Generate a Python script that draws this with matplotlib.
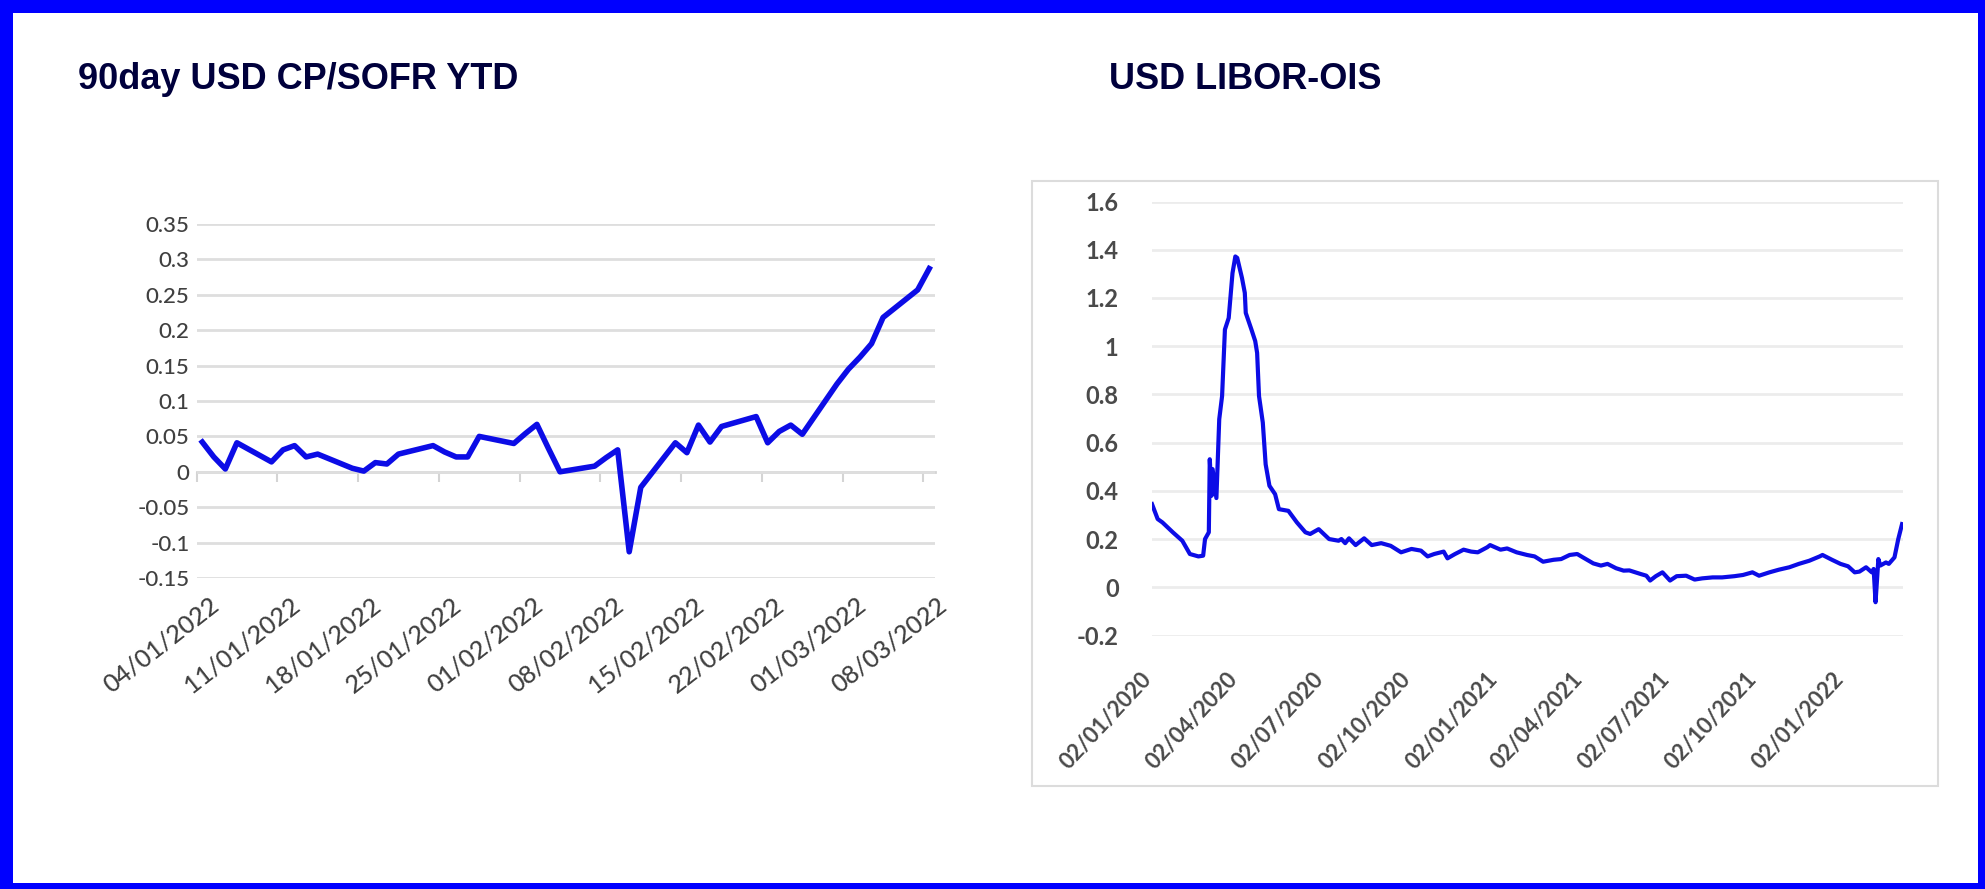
import matplotlib
matplotlib.use('Agg')
import matplotlib.pyplot as plt
import matplotlib.dates as mdates
from matplotlib.patches import Rectangle
from matplotlib.transforms import ScaledTranslation
import pandas as pd

plt.rcParams['font.family'] = ['Lato', 'DejaVu Sans']

# ---- left chart: 90day USD CP/SOFR, business days 04/01/2022 - 08/03/2022
cp_dates = pd.bdate_range('2022-01-04', '2022-03-08')
cp_vals = [0.042, 0.021, 0.004, 0.041,
           0.014, 0.031, 0.037, 0.021, 0.025,
           0.005, 0.001, 0.013, 0.011, 0.025,
           0.037, 0.028, 0.021, 0.021, 0.050,
           0.040, 0.054, 0.067, 0.033, 0.000,
           0.008, 0.020, 0.031, -0.113, -0.022,
           0.041, 0.027, 0.066, 0.042, 0.064,
           0.078, 0.041, 0.057, 0.066, 0.053,
           0.124, 0.145, 0.162, 0.181, 0.218,
           0.257, 0.287]
cp_ticks = ['2022-01-04', '2022-01-11', '2022-01-18', '2022-01-25', '2022-02-01',
            '2022-02-08', '2022-02-15', '2022-02-22', '2022-03-01', '2022-03-08']
cp_yticks = [-0.15, -0.1, -0.05, 0, 0.05, 0.1, 0.15, 0.2, 0.25, 0.3, 0.35]

# ---- right chart: USD LIBOR-OIS
lo_dates = ['2020-01-02', '2020-01-08', '2020-01-13', '2020-01-24', '2020-02-03',
            '2020-02-11', '2020-02-20', '2020-02-25', '2020-02-27', '2020-03-02',
            '2020-03-03', '2020-03-05', '2020-03-06', '2020-03-10', '2020-03-13',
            '2020-03-16', '2020-03-19', '2020-03-23', '2020-03-27', '2020-03-30',
            '2020-04-01', '2020-04-06', '2020-04-09', '2020-04-10', '2020-04-16',
            '2020-04-20', '2020-04-22', '2020-04-24', '2020-04-28', '2020-05-01',
            '2020-05-05', '2020-05-11', '2020-05-15', '2020-05-25', '2020-06-03',
            '2020-06-12', '2020-06-17', '2020-06-26', '2020-07-07', '2020-07-17',
            '2020-07-20', '2020-07-24', '2020-07-28', '2020-08-04', '2020-08-13',
            '2020-08-21', '2020-08-31', '2020-09-10', '2020-09-21', '2020-10-02',
            '2020-10-12', '2020-10-19', '2020-10-26', '2020-11-05', '2020-11-09',
            '2020-11-17', '2020-11-26', '2020-12-04', '2020-12-11', '2020-12-21',
            '2020-12-24', '2021-01-04', '2021-01-11', '2021-01-21', '2021-02-01',
            '2021-02-09', '2021-02-18', '2021-03-01', '2021-03-09', '2021-03-18',
            '2021-03-26', '2021-04-01', '2021-04-12', '2021-04-20', '2021-04-27',
            '2021-05-06', '2021-05-14', '2021-05-20', '2021-06-01', '2021-06-07',
            '2021-06-11', '2021-06-17', '2021-06-24', '2021-07-02', '2021-07-09',
            '2021-07-19', '2021-07-28', '2021-08-05', '2021-08-16', '2021-08-26',
            '2021-09-08', '2021-09-17', '2021-09-27', '2021-10-04', '2021-10-15',
            '2021-10-25', '2021-11-05', '2021-11-15', '2021-11-26', '2021-12-07',
            '2021-12-10', '2021-12-20', '2021-12-29', '2022-01-06', '2022-01-13',
            '2022-01-18', '2022-01-25', '2022-01-31', '2022-02-02', '2022-02-04',
            '2022-02-07', '2022-02-09', '2022-02-15', '2022-02-18', '2022-02-24',
            '2022-02-28', '2022-03-04']
lo_vals = [0.345, 0.283, 0.269, 0.228, 0.193,
           0.138, 0.128, 0.131, 0.200, 0.228,
           0.531, 0.380, 0.490, 0.370, 0.697,
           0.793, 1.069, 1.117, 1.303, 1.372,
           1.366, 1.283, 1.221, 1.138, 1.069,
           1.021, 0.972, 0.793, 0.683, 0.510,
           0.421, 0.386, 0.324, 0.317, 0.269,
           0.228, 0.221, 0.241, 0.200, 0.193,
           0.200, 0.183, 0.203, 0.175, 0.203,
           0.175, 0.183, 0.172, 0.145, 0.159,
           0.152, 0.128, 0.138, 0.148, 0.120,
           0.138, 0.156, 0.148, 0.145, 0.166,
           0.175, 0.156, 0.161, 0.145, 0.134,
           0.128, 0.106, 0.114, 0.117, 0.134,
           0.138, 0.124, 0.099, 0.090, 0.097,
           0.079, 0.069, 0.070, 0.055, 0.048,
           0.028, 0.046, 0.062, 0.028, 0.046,
           0.048, 0.032, 0.037, 0.041, 0.041,
           0.046, 0.051, 0.062, 0.048, 0.062,
           0.073, 0.083, 0.097, 0.110, 0.128,
           0.134, 0.114, 0.097, 0.087, 0.062,
           0.065, 0.083, 0.062, 0.076, -0.062,
           0.117, 0.090, 0.103, 0.097, 0.124,
           0.200, 0.262]
lo_ticks = ['2020-01-02', '2020-04-02', '2020-07-02', '2020-10-02', '2021-01-02',
            '2021-04-02', '2021-07-02', '2021-10-02', '2022-01-02']
lo_yticks = [-0.2, 0, 0.2, 0.4, 0.6, 0.8, 1, 1.2, 1.4, 1.6]

blue = '#0c0ce6'
W, H = 1985, 889
fig = plt.figure(figsize=(W / 100, H / 100), dpi=100, facecolor='#0000ff')

# white page inside the blue frame
fig.patches.append(Rectangle((13 / W, 6 / H), (W - 20) / W, (H - 19) / H,
                             transform=fig.transFigure, facecolor='white',
                             edgecolor='none', zorder=-2))
# light grey box round the right chart
fig.patches.append(Rectangle((1032 / W, 1 - 786 / H), 906 / W, 605 / H,
                             transform=fig.transFigure, facecolor='none',
                             edgecolor='#dcdcdc', lw=1.5, zorder=-1))

fig.text(78 / W, 1 - 89 / H, '90day USD CP/SOFR YTD', fontsize=26, fontweight='bold',
         color='#00003c', family='Liberation Sans', va='baseline')
fig.text(1109 / W, 1 - 89 / H, 'USD LIBOR-OIS', fontsize=26, fontweight='bold',
         color='#00003c', family='Liberation Sans', va='baseline')


def ylab(v):
    return f'{round(v, 2):g}'


# ---- left
ax1 = fig.add_axes([196.5 / W, 1 - 578 / H, 738.5 / W, 354 / H])
ax1.set_facecolor('none')
x1 = mdates.date2num(cp_dates)
ax1.plot(x1, cp_vals, color=blue, lw=4)
ax1.set_xlim(x1[0] - 0.5, x1[-1] + 0.5)
ax1.set_ylim(-0.15, 0.35)
ax1.set_yticks(cp_yticks)
ax1.set_yticklabels([ylab(v) for v in cp_yticks])
ax1.yaxis.grid(True, color='#dedede', lw=2)
ax1.set_axisbelow(True)
for s in ax1.spines.values():
    s.set_visible(False)
t1 = mdates.date2num(pd.to_datetime(cp_ticks))
ax1.set_xticks(t1)
ax1.set_xticklabels(pd.to_datetime(cp_ticks).strftime('%d/%m/%Y'),
                    rotation=38, ha='right', va='top', rotation_mode='anchor')
ax1.tick_params(axis='both', length=0, labelsize=16, labelcolor='#404040')
ax1.tick_params(axis='x', pad=11, labelsize=18)
ax1.tick_params(axis='y', pad=5)
for lbl in ax1.get_xticklabels() + ax1.get_yticklabels():
    lbl.set_fontweight('medium')
for lbl in ax1.get_xticklabels():
    lbl.set_transform(lbl.get_transform() + ScaledTranslation(0.07, 0, fig.dpi_scale_trans))

# horizontal axis line sits on zero with small ticks
sec = ax1.secondary_xaxis(0.3)
sec.set_xticks(t1 - 0.5)
sec.tick_params(direction='out', length=7, width=1.5, color='#d4d4d4', labelbottom=False)
sec.spines['bottom'].set_color('#d4d4d4')
sec.spines['bottom'].set_linewidth(2)

# ---- right
ax2 = fig.add_axes([1152 / W, 1 - 635.5 / H, 751 / W, 434 / H])
ax2.set_facecolor('none')
x2 = mdates.date2num(pd.to_datetime(lo_dates))
ax2.plot(x2, lo_vals, color=blue, lw=3)
ax2.set_xlim(mdates.date2num(pd.Timestamp('2020-01-02')),
             mdates.date2num(pd.Timestamp('2022-03-05')))
ax2.set_ylim(-0.2, 1.6)
ax2.set_yticks(lo_yticks)
ax2.set_yticklabels([ylab(v) for v in lo_yticks])
ax2.yaxis.grid(True, color='#ececec', lw=2)
ax2.set_axisbelow(True)
for s in ax2.spines.values():
    s.set_visible(False)
t2 = mdates.date2num(pd.to_datetime(lo_ticks))
ax2.set_xticks(t2)
ax2.set_xticklabels(pd.to_datetime(lo_ticks).strftime('%d/%m/%Y'),
                    rotation=47, ha='right', va='top', rotation_mode='anchor')
ax2.tick_params(axis='both', length=0, labelsize=17, labelcolor='#4a4a4a')
ax2.tick_params(axis='x', pad=24, labelsize=16)
ax2.tick_params(axis='y', pad=24)
for lbl in ax2.get_xticklabels() + ax2.get_yticklabels():
    lbl.set_fontweight('bold')
for lbl in ax2.get_xticklabels():
    lbl.set_transform(lbl.get_transform() + ScaledTranslation(-0.12, 0, fig.dpi_scale_trans))

fig.savefig('out.png', dpi=100, facecolor=fig.get_facecolor())
